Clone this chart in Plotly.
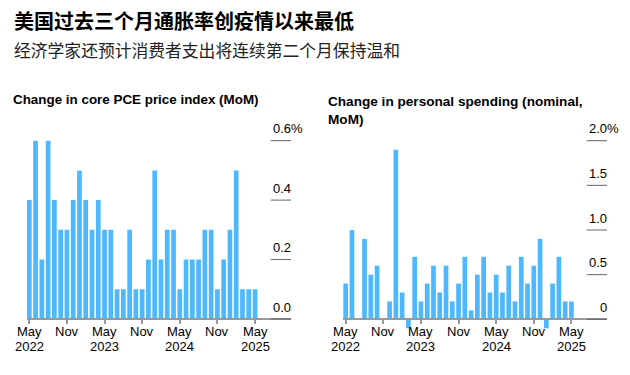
import plotly.graph_objects as go
import pandas as pd

# ---------------- data ----------------
months = [d.strftime("%Y-%m") for d in pd.date_range("2022-05-01", "2025-05-01", freq="MS")]
core_pce = [0.4, 0.6, 0.2, 0.6, 0.4, 0.3, 0.3, 0.4, 0.5, 0.4, 0.3, 0.4,
            0.3, 0.3, 0.1, 0.1, 0.3, 0.1, 0.1, 0.2, 0.5, 0.2, 0.3, 0.3,
            0.1, 0.2, 0.2, 0.2, 0.3, 0.3, 0.1, 0.2, 0.3, 0.5, 0.1, 0.1, 0.1]
spending = [0.4, 1.0, 0.0, 0.9, 0.5, 0.6, 0.0, 0.2, 1.9, 0.3, -0.1, 0.7,
            0.2, 0.4, 0.6, 0.3, 0.6, 0.2, 0.4, 0.7, 0.1, 0.5, 0.7, 0.3,
            0.5, 0.3, 0.6, 0.2, 0.7, 0.4, 0.6, 0.9, -0.1, 0.4, 0.7, 0.2, 0.2]
x_tick_idx = [0, 6, 12, 18, 24, 30, 36]
x_tick_text = ["May", "Nov", "May", "Nov", "May", "Nov", "May"]
year_idx = [0, 12, 24, 36]
year_text = ["2022", "2023", "2024", "2025"]
left_yticks = [0.0, 0.2, 0.4, 0.6]
left_ylabels = ["0.0", "0.2", "0.4", "0.6"]
right_yticks = [0.0, 0.5, 1.0, 1.5, 2.0]
right_ylabels = ["0", "0.5", "1.0", "1.5", "2.0"]

title = "美国过去三个月通胀率创疫情以来最低"
subtitle = "经济学家还预计消费者支出将连续第二个月保持温和"
left_title = "Change in core PCE price index (MoM)"
right_title = "Change in personal spending (nominal,<br>MoM)"

# ---------------- layout helpers ----------------
W, H = 630, 375
def px(x):
    return x / W
def py(y):
    return 1 - y / H

BAR = "#4db8ff"
LINE = "#999999"
TICKLINE = "#666666"
FONT = "Liberation Sans, Arial, sans-serif"
CJK = "Noto Sans CJK SC, sans-serif"

xs = list(range(len(months)))

fig = go.Figure()
fig.add_trace(go.Bar(x=xs, y=core_pce, marker_color=BAR, marker_line_width=0,
                     xaxis="x", yaxis="y", showlegend=False, hoverinfo="skip"))
fig.add_trace(go.Bar(x=xs, y=spending, marker_color=BAR, marker_line_width=0,
                     xaxis="x2", yaxis="y2", showlegend=False, hoverinfo="skip"))

step = 6.27
top_px, bot_px = 138, 332
l_x0, l_x1, l_first = 26.5, 291, 29.3
r_x0, r_x1, r_first = 343, 607, 345.7
l_zero, l_scale = 319.0, 297.2
r_zero, r_scale = 319.3, 89.3

def xrange(x0, x1, first):
    a = -(first - x0) / step
    return [a, a + (x1 - x0) / step]

xaxis_common = dict(
    showline=True, linecolor=LINE, linewidth=1.5,
    ticks="outside", ticklen=4, tickcolor=LINE, tickwidth=1.5,
    showgrid=False, zeroline=False, anchor="free", automargin=False,
    tickmode="array", tickvals=x_tick_idx, showticklabels=False,
)

fig.update_layout(
    template="none",
    width=W, height=H, autosize=False,
    margin=dict(l=0, r=0, t=0, b=0, pad=0),
    paper_bgcolor="white", plot_bgcolor="white",
    bargap=0.25,
    xaxis=dict(domain=[px(l_x0), px(l_x1)], range=xrange(l_x0, l_x1, l_first),
               position=py(l_zero), **xaxis_common),
    xaxis2=dict(domain=[px(r_x0), px(r_x1)], range=xrange(r_x0, r_x1, r_first),
                position=py(r_zero), **xaxis_common),
    yaxis=dict(domain=[py(bot_px), py(top_px)], visible=False, showgrid=False,
               automargin=False, zeroline=False,
               range=[-(bot_px - l_zero) / l_scale, (l_zero - top_px) / l_scale]),
    yaxis2=dict(domain=[py(bot_px), py(top_px)], visible=False, showgrid=False,
                anchor="x2", automargin=False, zeroline=False,
                range=[-(bot_px - r_zero) / r_scale, (r_zero - top_px) / r_scale]),
)

shapes = []
ann = []

def add_yticks(vals, labels, yref, xa, xb):
    for i, (v, lab) in enumerate(zip(vals, labels)):
        shapes.append(dict(type="line", xref="paper", yref=yref,
                           x0=px(xa), x1=px(xb), y0=v, y1=v,
                           line=dict(color=TICKLINE, width=1)))
        if i == len(vals) - 1:
            ann.append(dict(xref="paper", yref=yref, x=px(xb - 19.5), y=v, yshift=12,
                            text=lab + "%", showarrow=False, xanchor="left", yanchor="middle",
                            borderpad=0, font=dict(family=FONT, size=13, color="#000")))
        else:
            ann.append(dict(xref="paper", yref=yref, x=px(xb + 0.5), y=v, yshift=12,
                            text=lab, showarrow=False, xanchor="right", yanchor="middle",
                            borderpad=0, font=dict(family=FONT, size=13, color="#000")))

add_yticks(left_yticks, left_ylabels, "y", 270.7, 291)
add_yticks(right_yticks, right_ylabels, "y2", 586.7, 607)

# x labels: month names and years
for xr in ["x", "x2"]:
    for i, t in zip(x_tick_idx, x_tick_text):
        ann.append(dict(xref=xr, yref="paper", x=i, y=py(331.3), text=t,
                        showarrow=False, xanchor="center", yanchor="middle", borderpad=0,
                        font=dict(family=FONT, size=13, color="#000")))
    for i, t in zip(year_idx, year_text):
        ann.append(dict(xref=xr, yref="paper", x=i, y=py(346.5), text=t,
                        showarrow=False, xanchor="center", yanchor="middle", borderpad=0,
                        font=dict(family=FONT, size=13, color="#000")))

ann.append(dict(xref="paper", yref="paper", x=px(11.5), y=py(20.5), text="<b>" + title + "</b>",
                showarrow=False, xanchor="left", yanchor="middle",
                font=dict(family=CJK, size=20, color="#000")))
ann.append(dict(xref="paper", yref="paper", x=px(11.5), y=py(49.5), text=subtitle,
                showarrow=False, xanchor="left", yanchor="middle",
                font=dict(family=CJK, size=16.8, color="#222")))
ann.append(dict(xref="paper", yref="paper", x=px(11), y=py(100), text="<b>" + left_title + "</b>",
                showarrow=False, xanchor="left", yanchor="middle",
                font=dict(family=FONT, size=13.4, color="#000")))
ann.append(dict(xref="paper", yref="paper", x=px(326), y=py(92), text="<b>" + right_title + "</b>",
                showarrow=False, xanchor="left", yanchor="top", align="left",
                font=dict(family=FONT, size=13.6, color="#000")))

fig.update_layout(shapes=shapes, annotations=ann)
fig.write_html("out.html", config={"displayModeBar": False},
               post_script="document.body.style.margin='0';document.body.style.padding='0';")
